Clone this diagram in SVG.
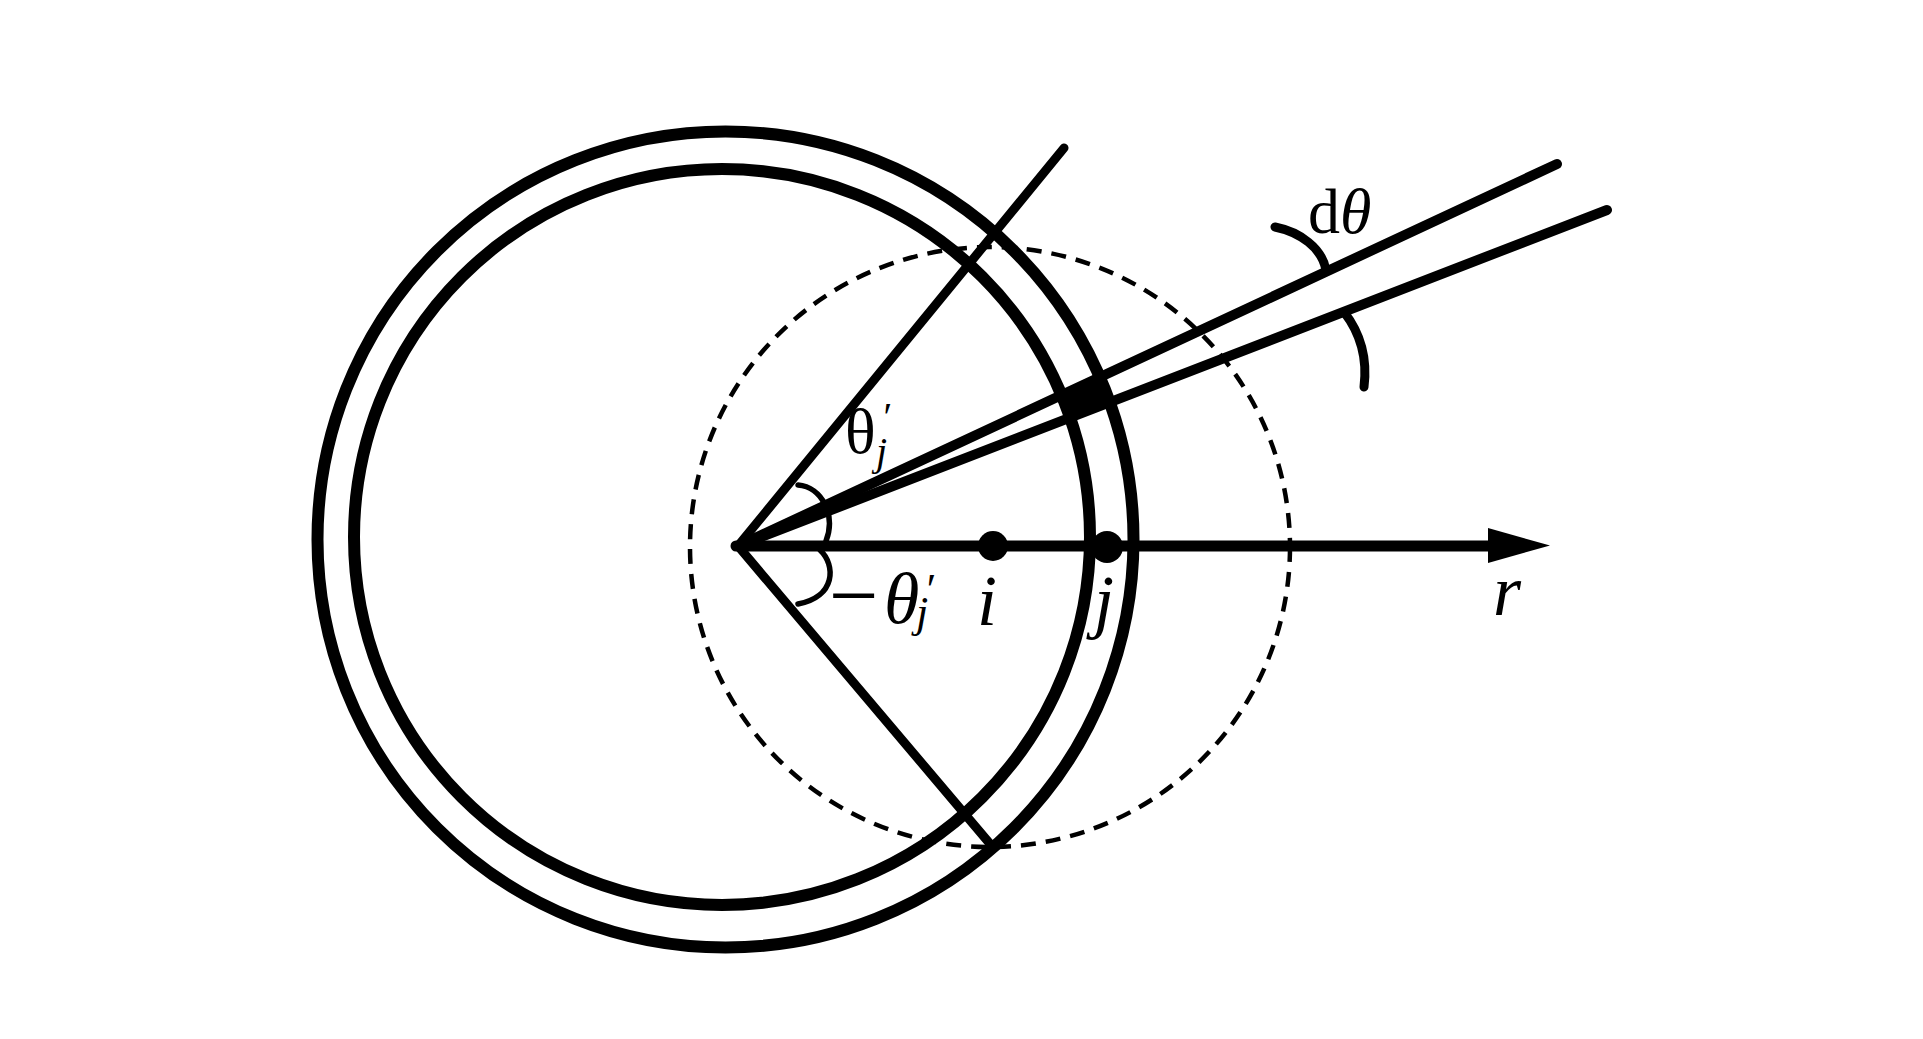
<svg xmlns="http://www.w3.org/2000/svg" width="1923" height="1039" viewBox="0 0 1923 1039">
  <style>
    .ring { fill: none; stroke: #000; stroke-width: 12; }
    .dash { fill: none; stroke: #000; stroke-width: 4.5; stroke-dasharray: 15 10; }
    .ln { fill: none; stroke: #000; stroke-linecap: round; stroke-linejoin: miter; }
    .arc { fill: none; stroke: #000; stroke-width: 5.5; stroke-linecap: round; }
    .arc2 { fill: none; stroke: #000; stroke-width: 9; stroke-linecap: round; }
    .m { font-family: "Liberation Serif", "Times New Roman", serif; font-style: italic; fill: #000; }
    .rm { font-family: "Liberation Serif", "Times New Roman", serif; font-style: normal; fill: #000; }
  </style>
  <rect x="0" y="0" width="1923" height="1039" fill="#fff"/>

  <g id="outer-circle">
    <circle class="ring" cx="725.5" cy="539.5" r="408"/>
  </g>
  <g id="inner-circle">
    <circle class="ring" cx="722" cy="537" r="368"/>
  </g>
  <g id="dashed-circle">
    <circle class="dash" cx="990" cy="547" r="300"/>
  </g>

  <g id="connectors">
    <polyline class="ln" stroke-width="9" points="1064,148 738,546 991,845"/>
    <line class="ln" stroke-width="10" x1="738" y1="546" x2="1557" y2="164"/>
    <line class="ln" stroke-width="10" x1="738" y1="546" x2="1607" y2="210"/>
    <line class="ln" stroke-width="11" stroke-linecap="butt" x1="736" y1="546" x2="1492" y2="546"/>
    <polygon points="1488,528 1550,545.5 1488,563" fill="#000"/>
    <polygon id="element-dtheta" points="1061.5,395 1099.9,377 1109.7,402 1070,418" fill="#000"/>
    <path class="arc" d="M 798 485 C 822 487, 836 515, 826 541"/>
    <path class="arc" d="M 820 550 C 836 565, 836 597, 798 604"/>
    <path class="arc2" d="M 1275 227 C 1300 232, 1322 248, 1326 270"/>
    <path class="arc2" d="M 1344 312 C 1358 330, 1368 355, 1364 387"/>
  </g>

  <g id="point-i">
    <circle cx="993" cy="546" r="15" fill="#000"/>
    <text class="m" x="977" y="625" font-size="72">i</text>
  </g>
  <g id="point-j">
    <circle cx="1107" cy="547" r="16" fill="#000"/>
    <text class="m" x="1094" y="625" font-size="72">j</text>
  </g>

  <g id="label-r">
    <text class="m" x="1493" y="615" font-size="72">r</text>
  </g>

  <g id="label-theta">
    <text class="rm" x="845" y="453" font-size="64">θ</text>
    <text class="m" x="881" y="430" font-size="40">′</text>
    <text class="m" x="876" y="465" font-size="40">j</text>
  </g>

  <g id="label-minus-theta">
    <text class="rm" x="829" y="625" font-size="88">−</text>
    <text class="m" x="884" y="623" font-size="72">θ</text>
    <text class="m" x="924" y="604" font-size="44">′</text>
    <text class="m" x="916" y="627" font-size="44">j</text>
  </g>

  <g id="label-dtheta">
    <text class="rm" x="1308" y="233" font-size="64">d<tspan class="m">θ</tspan></text>
  </g>
</svg>
